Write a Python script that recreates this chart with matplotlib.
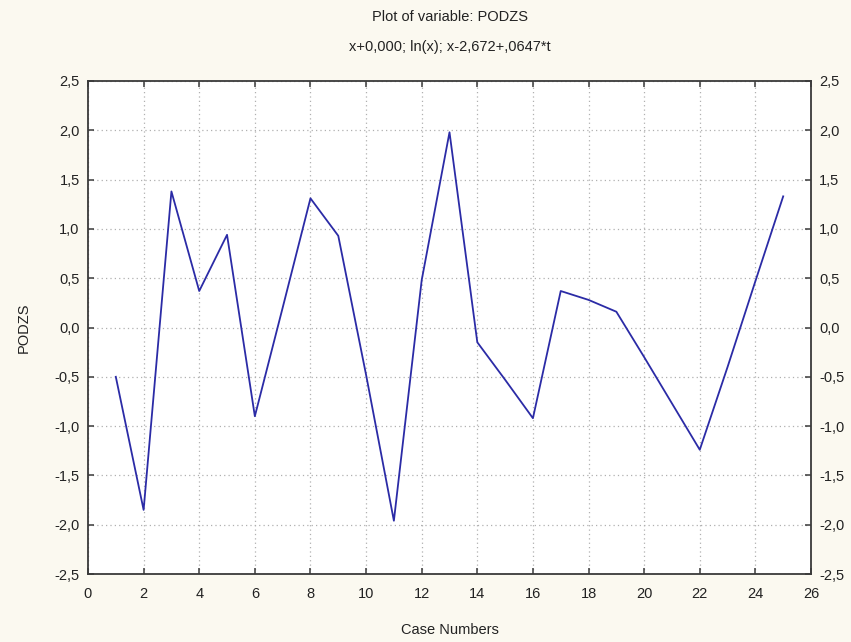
import matplotlib
matplotlib.use("Agg")
import matplotlib.pyplot as plt
from matplotlib.ticker import FuncFormatter

plt.rcParams['font.family'] = ['Liberation Sans', 'DejaVu Sans']

# Case numbers and PODZS values (transformed series)
case_numbers = list(range(1, 26))
podzs = [-0.50, -1.85, 1.38, 0.37, 0.94, -0.90, 0.20, 1.31, 0.93, -0.48,
         -1.96, 0.48, 1.98, -0.15, -0.53, -0.92, 0.37, 0.28, 0.16, -0.30,
         -0.77, -1.24, -0.40, 0.47, 1.33]

x_ticks = list(range(0, 27, 2))
y_ticks = [-2.5, -2.0, -1.5, -1.0, -0.5, 0.0, 0.5, 1.0, 1.5, 2.0, 2.5]

title = "Plot of variable: PODZS"
subtitle = "x+0,000; ln(x); x-2,672+,0647*t"

bg = '#fbf9f0'
fig = plt.figure(figsize=(8.51, 6.42), dpi=100, facecolor=bg)
ax = fig.add_axes([88 / 851, 1 - 574 / 642, (811 - 88) / 851, (574 - 81) / 642])
ax.set_facecolor('white')

ax.plot(case_numbers, podzs, color='#2b2ba6', lw=1.3, zorder=3)

ax.set_xlim(0, 26)
ax.set_ylim(-2.5, 2.5)
ax.set_xticks(x_ticks)
ax.set_yticks(y_ticks)

comma = FuncFormatter(lambda v, p: f"{v:.1f}".replace('.', ','))
ax.yaxis.set_major_formatter(comma)
ax.xaxis.set_major_formatter(FuncFormatter(lambda v, p: f"{int(round(v))}"))

ax.grid(True, linestyle=(0, (1, 2.5)), color='#b0b0b0', lw=0.9, zorder=1)

for s in ax.spines.values():
    s.set_color('#3a3a3a')
    s.set_linewidth(1.3)

ax.tick_params(axis='both', which='major', direction='in', length=4, width=1.1,
               color='#3a3a3a', labelsize=10.5, labelcolor='#222222',
               top=True, right=True, labelright=True)
ax.tick_params(axis='x', pad=9)
ax.tick_params(axis='y', pad=6)

ax.set_xlabel("Case Numbers", fontsize=10.5, color='#222222', labelpad=16)
ax.set_ylabel("PODZS", fontsize=10.5, color='#222222', labelpad=17)

fig.text(0.5 * (88 + 811) / 851, 1 - 17 / 642, title, ha='center', va='center',
         fontsize=10.5, color='#222222')
fig.text(0.5 * (88 + 811) / 851, 1 - 47 / 642, subtitle, ha='center', va='center',
         fontsize=10.5, color='#222222')

fig.savefig("out.png", dpi=100, facecolor=bg)
